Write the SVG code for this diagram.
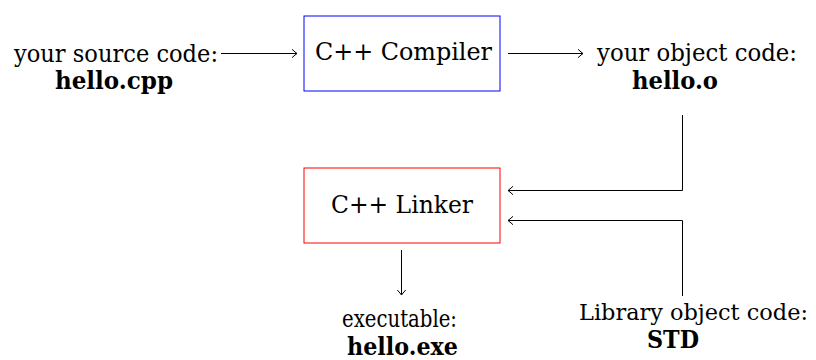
<svg xmlns="http://www.w3.org/2000/svg" width="816" height="360" viewBox="0 0 816 360">
<defs>
<marker id="arr" markerUnits="userSpaceOnUse" markerWidth="12" markerHeight="12" viewBox="-8 -6 10 12" refX="0" refY="0" orient="auto">
<path d="M -5 -4.2 Q -1.5 -1 0 0 Q -1.5 1 -5 4.2" fill="none" stroke="#000" stroke-width="1"/>
</marker>
</defs>
<style>
text { font-family: 'DejaVu Serif', 'Liberation Serif', serif; font-size: 25px; fill: #000; }
.b { font-weight: bold; }
.box { fill: #fff; stroke-width: 1; }
.c { fill: none; stroke: #000; stroke-width: 1; }
</style>
<rect width="816" height="360" fill="#fff"/>
<g id="source">
<text x="14" y="62" textLength="204" lengthAdjust="spacingAndGlyphs">your source code:</text>
<text class="b" x="55" y="89" textLength="118" lengthAdjust="spacingAndGlyphs">hello.cpp</text>
</g>
<g id="compiler">
<rect class="box" x="304" y="16" width="196" height="75" stroke="#0000ff"/>
<text x="315" y="60" textLength="177" lengthAdjust="spacingAndGlyphs">C++ Compiler</text>
</g>
<g id="object">
<text x="597" y="61" textLength="200" lengthAdjust="spacingAndGlyphs">your object code:</text>
<text class="b" x="632" y="89" textLength="86" lengthAdjust="spacingAndGlyphs">hello.o</text>
</g>
<g id="linker">
<rect class="box" x="304" y="168" width="196" height="75" stroke="#ff0000"/>
<text x="331" y="213" textLength="142" lengthAdjust="spacingAndGlyphs">C++ Linker</text>
</g>
<g id="executable">
<text x="342" y="327" textLength="115" lengthAdjust="spacingAndGlyphs">executable:</text>
<text class="b" x="347" y="355" textLength="111" lengthAdjust="spacingAndGlyphs">hello.exe</text>
</g>
<g id="library">
<text x="579" y="320" style="font-size:22px" textLength="229" lengthAdjust="spacingAndGlyphs">Library object code:</text>
<text class="b" x="647" y="348" textLength="52" lengthAdjust="spacingAndGlyphs">STD</text>
</g>
<g id="connectors">
<path class="c" d="M 221 53.5 H 297" marker-end="url(#arr)"/>
<path class="c" d="M 508 53.5 H 583" marker-end="url(#arr)"/>
<path class="c" d="M 682.5 115 V 190.5 H 508" marker-end="url(#arr)"/>
<path class="c" d="M 682.5 296 V 220.5 H 508" marker-end="url(#arr)"/>
<path class="c" d="M 401.5 250 V 295" marker-end="url(#arr)"/>
</g>
</svg>
